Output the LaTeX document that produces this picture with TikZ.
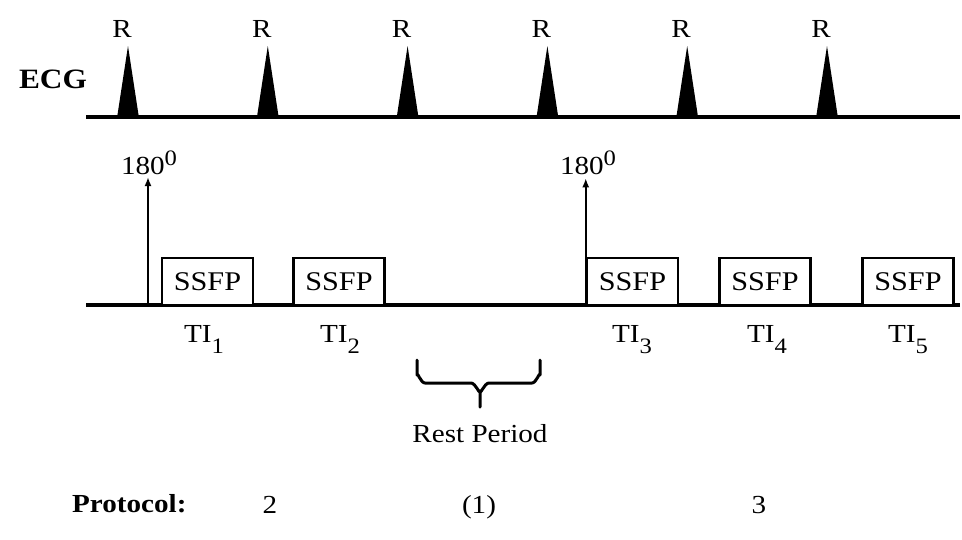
\documentclass[tikz,border=0pt]{standalone}
\usepackage{fontspec}
\setmainfont{Liberation Serif}[FakeStretch=1.12]
\usetikzlibrary{arrows.meta}
\newcommand\mysub[1]{\raisebox{-11pt}{\fontsize{22}{22}\selectfont #1}}
\newcommand\mysup[1]{\raisebox{9pt}{\fontsize{22}{22}\selectfont #1}}
\begin{document}
\begin{tikzpicture}[x=1pt,y=-1pt,
  txt/.style={inner sep=0pt, anchor=base, font=\fontsize{26}{30}\selectfont},
  btxt/.style={inner sep=0pt, anchor=base, font=\fontsize{26}{32}\selectfont\bfseries},
  axisline/.style={line width=3.3pt},
  peak/.style={fill=black},
  pulse/.style={line width=2.2pt, -{Latex[length=9pt,width=7pt]}},
  bracepath/.style={line width=3pt, line cap=round, line join=round},
  seqbox/.style={draw, line width=2.5pt, minimum width=91pt, minimum height=47pt,
    inner sep=0pt, fill=white, font=\fontsize{27}{30}\selectfont}]
\useasboundingbox (0,0) rectangle (962,539);

% ECG
\node[btxt, font=\fontsize{28}{32}\selectfont\bfseries] (ecg) at (53,88) {ECG};
\coordinate (e0) at (86,117);
\coordinate (e1) at (960,117);
\draw[axisline] (e0) -- (e1);
\foreach \i in {0,...,5}{
  \pgfmathsetmacro{\px}{128+139.8*\i}
  \fill[peak] (\px-11,118) -- (\px,46) -- (\px+11,118) -- cycle;
  \node[txt] (r\i) at (\px-6,37) {R};
}

% sequence line
\coordinate (s0) at (86,305);
\coordinate (s1) at (960,305);
\draw[axisline] (s0) -- (s1);

\node[seqbox] (b1) at (207.5,281.5) {SSFP};
\node[seqbox] (b2) at (339,281.5) {SSFP};
\node[seqbox] (b3) at (632.5,281.5) {SSFP};
\node[seqbox] (b4) at (765,281.5) {SSFP};
\node[seqbox] (b5) at (908,281.5) {SSFP};

% inversion pulses
\coordinate (p1b) at (148,305);
\coordinate (p1t) at (148,177);
\draw[pulse] (p1b) -- (p1t);
\node[txt] (l1) at (149,174) {180\mysup{0}};
\draw[pulse] (b3.south west) -- ++(0,-128) coordinate (p2t);
\node[txt] (l2) at (588,174) {180\mysup{0}};

% TI labels
\node[txt] (t1) at (204,342) {TI\mysub{1}};
\node[txt] (t2) at (340,342) {TI\mysub{2}};
\node[txt] (t3) at (632,342) {TI\mysub{3}};
\node[txt] (t4) at (767,342) {TI\mysub{4}};
\node[txt] (t5) at (908,342) {TI\mysub{5}};

% brace
\coordinate (bl) at (417,360);
\coordinate (br) at (540,360);
\coordinate (bm) at (480,407);
\draw[bracepath] (bl) -- (417,375) to[out=90,in=180] (425,383) -- (471,383)
  to[out=0,in=-90] (480,391) -- (bm);
\draw[bracepath] (br) -- (540,375) to[out=90,in=0] (532,383) -- (489,383)
  to[out=180,in=-90] (480,391);
\node[txt] (rest) at (480,442) {Rest Period};

% protocol
\node[btxt, anchor=base west] (prot) at (72,512) {Protocol:};
\node[txt] (n2) at (270,513) {2};
\node[txt] (n1) at (479,513) {(1)};
\node[txt] (n3) at (759,513) {3};
\end{tikzpicture}
\end{document}
